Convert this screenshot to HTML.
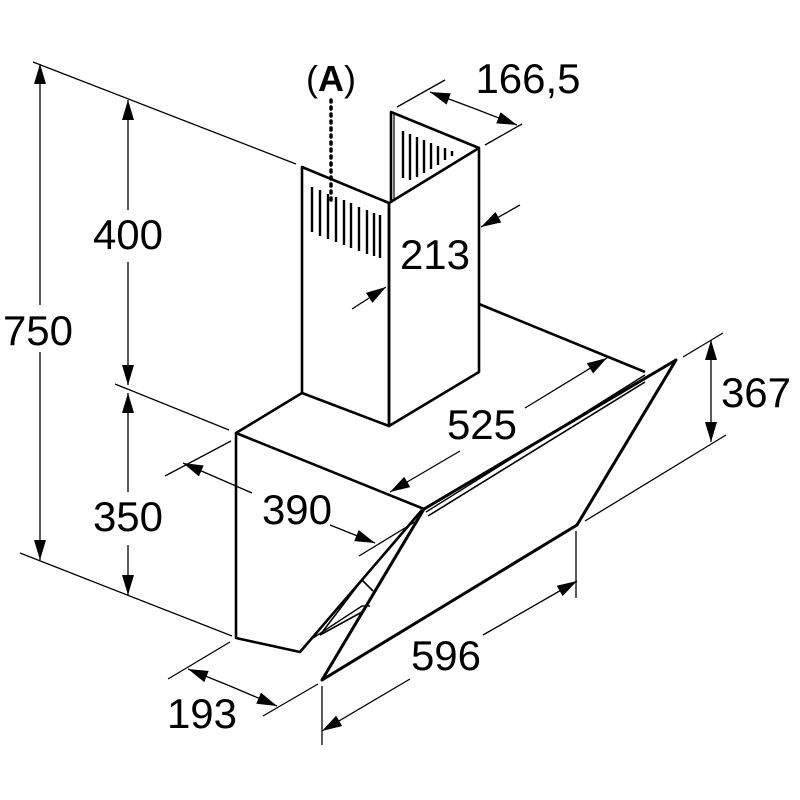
<!DOCTYPE html>
<html><head><meta charset="utf-8"><style>html,body{margin:0;padding:0;background:#fff}svg{display:block}text{font-family:"Liberation Sans",sans-serif;font-size:42px;fill:#000}</style></head>
<body>
<svg width="800" height="800" viewBox="0 0 800 800" xmlns="http://www.w3.org/2000/svg">
<defs>
<marker id="ar" viewBox="0 0 10 10" refX="10" refY="5" markerWidth="20" markerHeight="20" markerUnits="userSpaceOnUse" orient="auto"><path d="M0,2 L10,5 L0,8 z" fill="#000"/></marker>
</defs>
<g stroke="#000" stroke-width="1.3" fill="none">
<line x1="33" y1="62" x2="296" y2="164"/>
<line x1="115" y1="384" x2="229" y2="430"/>
<line x1="20" y1="553" x2="232" y2="636"/>
<line x1="165" y1="476" x2="231" y2="441"/>
<line x1="359" y1="556" x2="418" y2="520"/>
<line x1="168" y1="679" x2="230" y2="642"/>
<line x1="263" y1="716" x2="318" y2="684"/>
<line x1="322" y1="686" x2="322" y2="745"/>
<line x1="576" y1="531" x2="576" y2="598"/>
<line x1="683" y1="357" x2="723" y2="333"/>
<line x1="585" y1="521" x2="726" y2="435"/>
<line x1="397" y1="107" x2="445" y2="80"/>
<line x1="485" y1="145" x2="522" y2="124"/>
<line x1="40" y1="305" x2="40" y2="64" marker-end="url(#ar)"/>
<line x1="40" y1="352" x2="40" y2="560" marker-end="url(#ar)"/>
<line x1="128" y1="210" x2="128" y2="100" marker-end="url(#ar)"/>
<line x1="128" y1="262" x2="128" y2="385" marker-end="url(#ar)"/>
<line x1="128" y1="492" x2="128" y2="393" marker-end="url(#ar)"/>
<line x1="128" y1="545" x2="128" y2="595" marker-end="url(#ar)"/>
<line x1="252" y1="493" x2="183" y2="463" marker-end="url(#ar)"/>
<line x1="330" y1="525" x2="375" y2="543" marker-end="url(#ar)"/>
<line x1="460" y1="451" x2="390" y2="492" marker-end="url(#ar)"/>
<line x1="525" y1="408" x2="607" y2="358" marker-end="url(#ar)"/>
<line x1="410" y1="679" x2="322" y2="731" marker-end="url(#ar)"/>
<line x1="483" y1="635" x2="577" y2="581" marker-end="url(#ar)"/>
<line x1="230" y1="686" x2="188" y2="669" marker-end="url(#ar)"/>
<line x1="230" y1="686" x2="277" y2="706" marker-end="url(#ar)"/>
<line x1="711" y1="391" x2="711" y2="340" marker-end="url(#ar)"/>
<line x1="711" y1="391" x2="711" y2="442" marker-end="url(#ar)"/>
<line x1="473" y1="108" x2="430" y2="92" marker-end="url(#ar)"/>
<line x1="473" y1="108" x2="517" y2="125" marker-end="url(#ar)"/>
<line x1="352" y1="309" x2="386" y2="287" marker-end="url(#ar)"/>
<line x1="520" y1="205" x2="481" y2="227" marker-end="url(#ar)"/>
</g>
<g stroke="#000" stroke-width="2.6" fill="none" stroke-linejoin="round">
<polygon points="302,167 389,203 389,426 302,393"/>
<polygon points="389,203 479,148 479,372 389,426"/>
<polyline points="391,203 391,112 479,148"/>
<line x1="394" y1="114" x2="394" y2="200" stroke-width="1.2"/>
<polyline points="302,393 236,433 424,509"/>
<polyline points="236,433 236,638 300,652 422,510"/>
<line x1="479" y1="304" x2="645" y2="372"/>
<polygon points="424,509 676,360 577,525 322,680" stroke-width="3"/>
<line x1="428" y1="516" x2="645" y2="382" stroke-width="1.6"/>
<line x1="426" y1="512" x2="645" y2="375" stroke-width="1.4"/>
<polyline points="320,635 362,580 373,591" stroke-width="1.6"/>
<polyline points="320,635 362,612" stroke-width="1.6"/>
<polyline points="310,640 362,606 370,606" stroke-width="1.4"/>
</g>
<g stroke="#000" stroke-width="2.4">
<line x1="312" y1="187" x2="312" y2="232"/><line x1="320" y1="190" x2="320" y2="236"/><line x1="328" y1="194" x2="328" y2="239"/><line x1="336" y1="197" x2="336" y2="242"/><line x1="344" y1="200" x2="344" y2="245"/><line x1="351" y1="203" x2="351" y2="248"/><line x1="359" y1="207" x2="359" y2="251"/><line x1="367" y1="210" x2="367" y2="254"/><line x1="374" y1="213" x2="374" y2="256"/><line x1="380" y1="215" x2="380" y2="258"/>
<line x1="403" y1="131" x2="403" y2="178"/><line x1="410" y1="134" x2="410" y2="180"/><line x1="417" y1="137" x2="417" y2="177"/><line x1="424" y1="140" x2="424" y2="173"/><line x1="431" y1="143" x2="431" y2="169"/><line x1="438" y1="146" x2="438" y2="165"/><line x1="445" y1="148" x2="445" y2="160"/><line x1="452" y1="151" x2="452" y2="156"/>
</g>
<line x1="331" y1="100" x2="331" y2="205" stroke="#000" stroke-width="3.5" stroke-dasharray="2 5" stroke-linecap="round"/>
<text x="38" y="345" text-anchor="middle">750</text>
<text x="128" y="249" text-anchor="middle">400</text>
<text x="128" y="531" text-anchor="middle">350</text>
<text x="297" y="524" text-anchor="middle">390</text>
<text x="482" y="439" text-anchor="middle">525</text>
<text x="446" y="670" text-anchor="middle">596</text>
<text x="202" y="728" text-anchor="middle">193</text>
<text x="756" y="407" text-anchor="middle">367</text>
<text x="435" y="269" text-anchor="middle">213</text>
<text x="528" y="93" text-anchor="middle">166,5</text>
<text x="331" y="91" text-anchor="middle" style="font-size:36px">(<tspan font-weight="bold">A</tspan>)</text>
</svg>
</body></html>
